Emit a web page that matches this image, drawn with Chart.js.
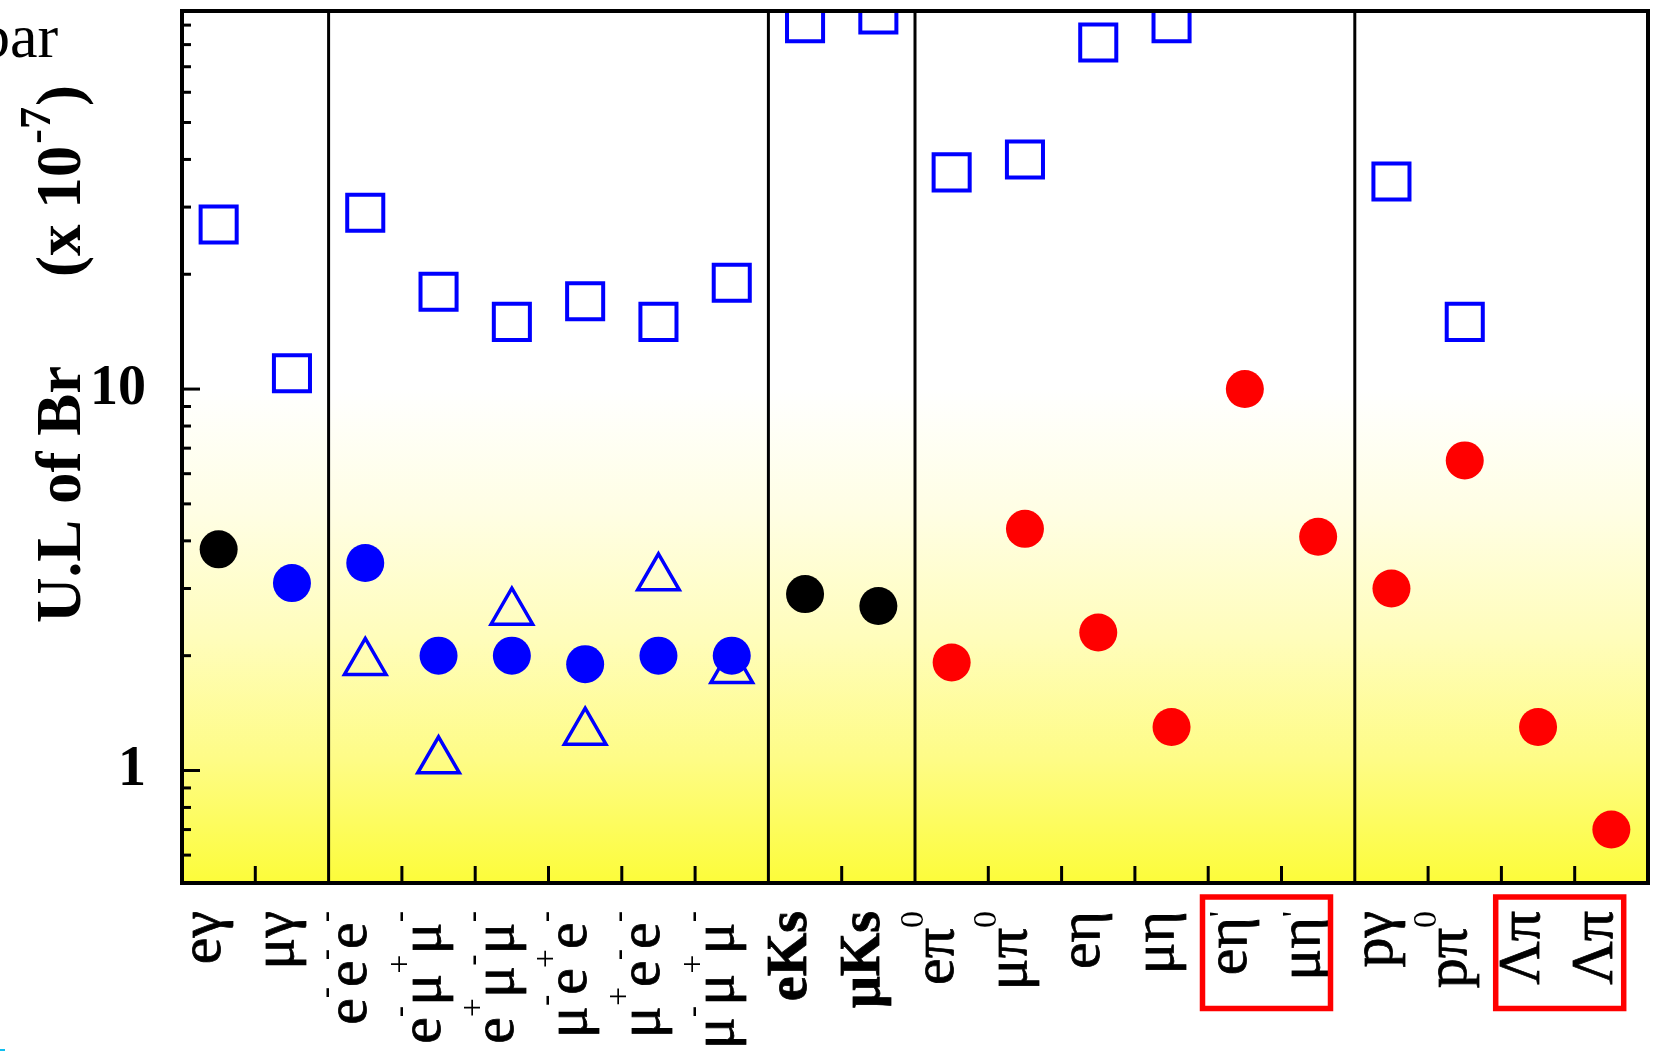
<!DOCTYPE html>
<html>
<head>
<meta charset="utf-8">
<script src="https://cdn.jsdelivr.net/npm/chart.js@4.4.1/dist/chart.umd.min.js"></script>
<style>
  html, body { margin: 0; padding: 0; background: #ffffff; }
  #wrap { position: relative; width: 1655px; height: 1051px; overflow: hidden; }
  #mark { position: absolute; left: 0; top: 1049px; width: 5px; height: 2px; background: #10bff0; }
</style>
</head>
<body>
<div id="wrap"><canvas id="c"></canvas><div id="mark"></div></div>
<script>
// ---------------- data ----------------
const categories = ['eγ','μγ','e⁻e⁻e⁻','e⁻μ⁺μ⁻','e⁺μ⁻μ⁻','μ⁻e⁺e⁻','μ⁺e⁻e⁻','μ⁻μ⁺μ⁻',
                    'eKs','μKs','eπ⁰','μπ⁰','eη','μη','eη′','μη′','pγ','pπ⁰','Λπ','Λπ'];
const boldCategories = ['eKs','μKs'];
const groupBreaks = [2, 8, 10, 16];
const highlightedPairs = [[14, 15], [18, 19]];

const openSquares   = [27, 11, 29, 18, 15, 17, 15, 19, 91, 96, 37, 40, 81, 91, null, null, 35, 15, null, null];
const blueCircles   = [null, 3.1, 3.5, 2.0, 2.0, 1.9, 2.0, 2.0, null, null, null, null, null, null, null, null, null, null, null, null];
const openTriangles = [null, null, 1.92, 1.06, 2.6, 1.26, 3.2, 1.83, null, null, null, null, null, null, null, null, null, null, null, null];
const blackCircles  = [3.8, null, null, null, null, null, null, null, 2.9, 2.7, null, null, null, null, null, null, null, null, null, null];
const redCircles    = [null, null, null, null, null, null, null, null, null, null, 1.92, 4.3, 2.3, 1.3, 10, 4.1, 3.0, 6.5, 1.3, 0.7];

const yTickLabels = [1, 10];
const yMin = 0.507, yMax = 98;
const yTitleMain = 'U.L of Br';
const yTitleUnit = ['(x 10', '-7', ')'];
const cornerText = 'bar';

// ---------------- helpers ----------------
const FONT = '"Liberation Serif", "Times New Roman", "DejaVu Serif", serif';
const supMap = { '⁻': '-', '⁺': '+', '⁰': '0' };

function parseLabel(s) {
  const parts = [];
  for (const ch of s) {
    if (supMap[ch]) parts.push({ t: supMap[ch], k: 'sup' });
    else if (ch === '′') parts.push({ t: "'", k: 'prime' });
    else parts.push({ t: ch, k: 'base' });
  }
  return parts;
}

function drawRotatedLabel(ctx, text, x, yEnd, bold) {
  const parts = parseLabel(text);
  const baseFont = (bold ? 'bold 56px ' : '60px ') + FONT;
  const supFont = '34px ' + FONT;
  let total = 0;
  parts.forEach(p => {
    p.font = p.k === 'base' ? baseFont : supFont;
    ctx.font = p.font;
    p.w = ctx.measureText(p.t).width;
    total += p.w;
  });
  ctx.save();
  ctx.translate(x, yEnd);
  ctx.rotate(-Math.PI / 2);
  ctx.textAlign = 'left';
  ctx.textBaseline = 'alphabetic';
  ctx.fillStyle = '#000';
  ctx.strokeStyle = '#000';
  ctx.lineWidth = 0.8;
  let lx = -total;
  parts.forEach(p => {
    ctx.font = p.font;
    const dy = p.k === 'sup' ? -30 : (p.k === 'prime' ? -14 : 0);
    ctx.fillText(p.t, lx, dy);
    if (p.k === 'base') ctx.strokeText(p.t, lx, dy);
    lx += p.w;
  });
  ctx.restore();
}

const decorPlugin = {
  id: 'decor',
  beforeDraw(chart) {
    const ctx = chart.ctx, a = chart.chartArea, y = chart.scales.y;
    ctx.save();
    ctx.fillStyle = '#ffffff';
    ctx.fillRect(0, 0, chart.width, chart.height);
    const yTen = y.getPixelForValue(10);
    const g = ctx.createLinearGradient(0, yTen, 0, a.bottom);
    g.addColorStop(0, '#ffffff');
    g.addColorStop(0.25, '#fffee4');
    g.addColorStop(0.5, '#fffdbc');
    g.addColorStop(0.75, '#fefc86');
    g.addColorStop(1, '#fcfc3a');
    ctx.fillStyle = g;
    ctx.fillRect(a.left, a.top, a.width, a.height);
    ctx.restore();
  },
  afterDatasetsDraw(chart) {
    const ctx = chart.ctx, a = chart.chartArea, x = chart.scales.x, y = chart.scales.y;
    ctx.save();
    ctx.strokeStyle = '#000';
    ctx.lineCap = 'butt';
    ctx.lineWidth = 3;
    const e0 = Math.floor(Math.log10(yMin)), e1 = Math.ceil(Math.log10(yMax));
    for (let e = e0; e <= e1; e++) {
      for (let m = 1; m <= 9; m++) {
        const v = m * Math.pow(10, e);
        if (v <= yMin || v >= yMax) continue;
        const py = y.getPixelForValue(v);
        const len = m === 1 ? 18 : 9;
        ctx.beginPath(); ctx.moveTo(a.left, py); ctx.lineTo(a.left + len, py); ctx.stroke();
      }
    }
    for (let i = 1; i < categories.length; i++) {
      const px = (x.getPixelForValue(i - 1) + x.getPixelForValue(i)) / 2;
      ctx.beginPath();
      if (groupBreaks.includes(i)) { ctx.moveTo(px, a.top); ctx.lineTo(px, a.bottom); }
      else { ctx.moveTo(px, a.bottom); ctx.lineTo(px, a.bottom - 17); }
      ctx.stroke();
    }
    ctx.lineWidth = 4;
    ctx.strokeRect(a.left, a.top, a.width, a.height);
    ctx.restore();
  },
  afterDraw(chart) {
    const ctx = chart.ctx, a = chart.chartArea, x = chart.scales.x;
    ctx.save();
    categories.forEach((lab, i) => {
      drawRotatedLabel(ctx, lab, x.getPixelForValue(i) + 1, a.bottom + 28, boldCategories.includes(lab));
    });
    ctx.strokeStyle = '#ff0000';
    ctx.lineWidth = 5.5;
    highlightedPairs.forEach(([i, j]) => {
      const cx = (x.getPixelForValue(i) + x.getPixelForValue(j)) / 2 - 15;
      ctx.strokeRect(cx - 64, a.bottom + 14, 128, 111.5);
    });
    ctx.fillStyle = '#000';
    ctx.translate(80, 623);
    ctx.rotate(-Math.PI / 2);
    ctx.textAlign = 'left';
    ctx.textBaseline = 'alphabetic';
    ctx.font = 'bold 63px ' + FONT;
    ctx.fillText(yTitleMain, 0, 0);
    let lx = 346;
    ctx.fillText(yTitleUnit[0], lx, 0);
    lx += ctx.measureText(yTitleUnit[0]).width + 2;
    ctx.font = 'bold 44px ' + FONT;
    ctx.fillText(yTitleUnit[1], lx, -30);
    lx += ctx.measureText(yTitleUnit[1]).width + 1;
    ctx.font = 'bold 63px ' + FONT;
    ctx.fillText(yTitleUnit[2], lx, 0);
    ctx.restore();
    ctx.save();
    ctx.fillStyle = '#000';
    ctx.font = '62px ' + FONT;
    ctx.textBaseline = 'alphabetic';
    ctx.fillText(cornerText, -21, 57);
    ctx.restore();
  }
};

function ds(label, data, style, radius, fill, border, bw, extra) {
  return Object.assign({
    label, data, showLine: false, pointStyle: style, pointRadius: radius, pointHoverRadius: radius,
    backgroundColor: fill, borderColor: border, borderWidth: bw, pointBorderWidth: bw
  }, extra || {});
}

new Chart(document.getElementById('c'), {
  type: 'line',
  data: {
    labels: categories,
    datasets: [
      ds('Blue filled', blueCircles, 'circle', 19, '#0000ff', '#0000ff', 0),
      ds('Black filled', blackCircles, 'circle', 19, '#000000', '#000000', 0),
      ds('Red filled', redCircles, 'circle', 19, '#ff0000', '#ff0000', 0),
      ds('Open triangles', openTriangles, 'triangle', 24, 'rgba(0,0,0,0)', '#0000ff', 3.5),
      ds('Open squares', openSquares, 'rect', 25.5, 'rgba(0,0,0,0)', '#0000ff', 4, { clip: 0 })
    ]
  },
  options: {
    responsive: true,
    maintainAspectRatio: false,
    devicePixelRatio: 1,
    animation: false,
    events: [],
    layout: { autoPadding: false, padding: { top: 11, right: 7, left: 0, bottom: 0 } },
    plugins: { legend: { display: false }, tooltip: { enabled: false }, title: { display: false } },
    scales: {
      x: {
        type: 'category',
        offset: true,
        grid: { display: false },
        border: { display: false },
        ticks: { display: false, autoSkip: false },
        afterFit(s) { s.height = 168; s.paddingLeft = 0; s.paddingRight = 0; }
      },
      y: {
        type: 'logarithmic',
        min: yMin,
        max: yMax,
        grid: { display: false },
        border: { display: false },
        ticks: {
          autoSkip: false,
          padding: 28,
          color: '#000',
          font: { family: FONT, size: 56, weight: 'bold' },
          callback: (v) => {
            const hit = yTickLabels.find(t => Math.abs(t - v) < 1e-9 * t);
            return hit !== undefined ? String(hit) : '';
          }
        },
        afterFit(s) { s.width = 182; s.paddingTop = 0; s.paddingBottom = 0; }
      }
    }
  },
  plugins: [decorPlugin]
});
</script>
</body>
</html>
